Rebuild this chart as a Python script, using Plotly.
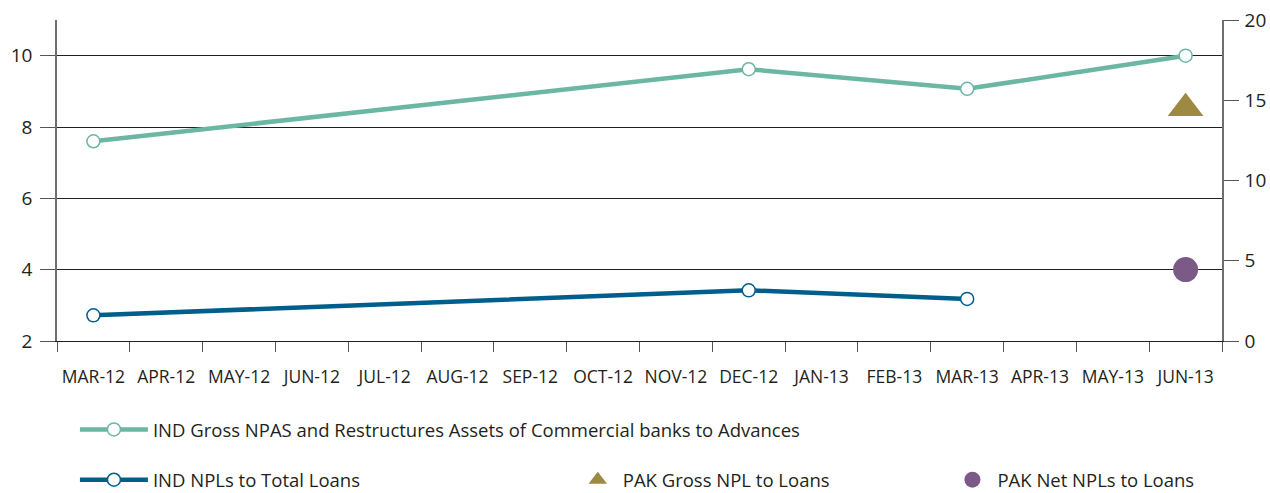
import plotly.graph_objects as go

months = ["MAR-12", "APR-12", "MAY-12", "JUN-12", "JUL-12", "AUG-12", "SEP-12", "OCT-12",
          "NOV-12", "DEC-12", "JAN-13", "FEB-13", "MAR-13", "APR-13", "MAY-13", "JUN-13"]

ind_gross_x = ["MAR-12", "DEC-12", "MAR-13", "JUN-13"]
ind_gross_y = [7.6, 9.62, 9.07, 10.0]

ind_npl_x = ["MAR-12", "DEC-12", "MAR-13"]
ind_npl_y = [2.72, 3.42, 3.18]

pak_gross_x = ["JUN-13"]
pak_gross_y = [14.5]

pak_net_x = ["JUN-13"]
pak_net_y = [4.45]

TEAL = "#6cb6a4"
BLUE = "#005e8c"
OLIVE = "#9d8942"
PURPLE = "#7c5a88"
INK = "#231f20"
FONT = "Open Sans"

fig = go.Figure()

fig.add_trace(go.Scatter(
    x=ind_gross_x, y=ind_gross_y, mode="lines+markers",
    name="IND Gross NPAS and Restructures Assets of Commercial banks to Advances",
    line=dict(color=TEAL, width=4.5),
    marker=dict(size=13, color="white", line=dict(color=TEAL, width=1.5)),
    legend="legend",
))
fig.add_trace(go.Scatter(
    x=ind_npl_x, y=ind_npl_y, mode="lines+markers",
    name="IND NPLs to Total Loans",
    line=dict(color=BLUE, width=4.5),
    marker=dict(size=13, color="white", line=dict(color=BLUE, width=1.5)),
    legend="legend2",
))
fig.add_trace(go.Scatter(
    x=pak_gross_x, y=pak_gross_y, mode="markers", yaxis="y2",
    name="PAK Gross NPL to Loans",
    marker=dict(symbol="triangle-up", size=31, color=OLIVE),
    legend="legend3",
))
fig.add_trace(go.Scatter(
    x=pak_net_x, y=pak_net_y, mode="markers", yaxis="y2",
    name="PAK Net NPLs to Loans",
    marker=dict(symbol="circle", size=25, color=PURPLE),
    legend="legend4",
))

legend_common = dict(
    orientation="h", bgcolor="rgba(0,0,0,0)", yanchor="middle", xanchor="left",
    xref="container", yref="container",
    font=dict(family=FONT, size=18.5, color=INK),
)

fig.update_layout(
    width=1270, height=493,
    margin=dict(l=57, r=48, t=20, b=152, autoexpand=False),
    paper_bgcolor="white", plot_bgcolor="white",
    font=dict(family=FONT, size=18, color=INK),
    showlegend=True,
    legend=dict(x=0.059, y=0.128, itemwidth=68, **legend_common),
    legend2=dict(x=0.059, y=0.026, itemwidth=68, **legend_common),
    legend3=dict(x=0.451, y=0.026, itemwidth=40, **legend_common),
    legend4=dict(x=0.746, y=0.026, itemwidth=40, **legend_common),
    xaxis=dict(
        type="category", categoryorder="array", categoryarray=months,
        tickvals=months, ticktext=months, tickangle=0, automargin=False,
        range=[-0.5, 15.5], tickson="boundaries", ticks="outside", ticklen=10,
        tickcolor="#555", showline=True, linecolor=INK, linewidth=1,
        showgrid=False, ticklabelstandoff=20,
        tickfont=dict(family=FONT, size=17.5, color=INK),
    ),
    yaxis=dict(
        range=[2, 11], tickvals=[2, 4, 6, 8, 10], ticks="outside", ticklen=15,
        tickcolor="#555", showline=True, linecolor="#6d6e71", linewidth=1.5,
        showgrid=True, gridcolor=INK, gridwidth=1, zeroline=False, automargin=False,
        ticklabelstandoff=4,
        tickfont=dict(family=FONT, size=19, color=INK),
    ),
    yaxis2=dict(
        range=[0, 20], tickvals=[0, 5, 10, 15, 20], overlaying="y", side="right",
        ticks="outside", ticklen=15, tickcolor="#555", showline=True, automargin=False,
        linecolor="#6d6e71", linewidth=1.5, showgrid=False, zeroline=False,
        ticklabelstandoff=2,
        tickfont=dict(family=FONT, size=19, color=INK),
    ),
)

fig.write_html("out.html", config={"displayModeBar": False},
               post_script="document.body.style.margin='0';")
